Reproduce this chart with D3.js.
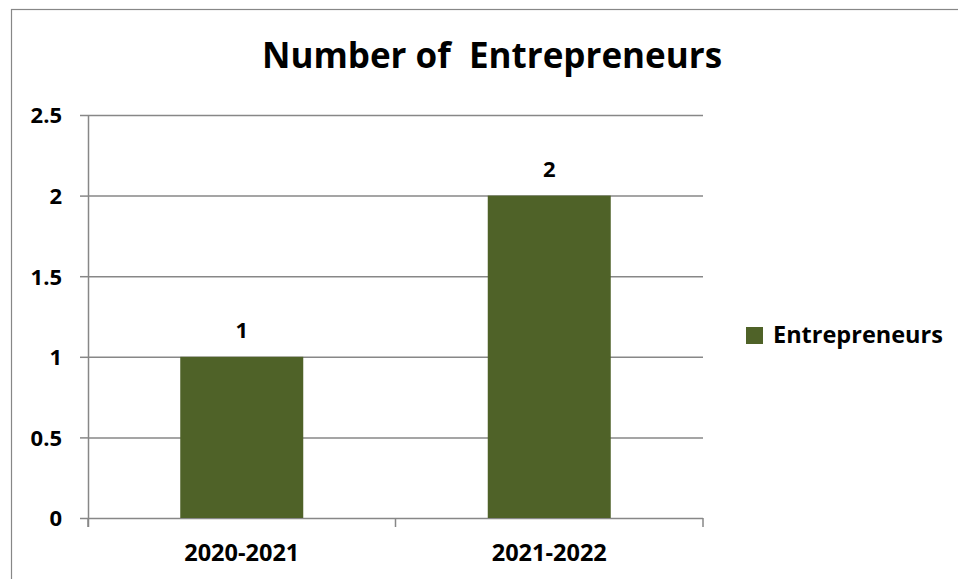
<!DOCTYPE html>
<html>
<head>
<meta charset="utf-8">
<script src="https://cdn.jsdelivr.net/npm/d3@7"></script>
<style>
  html, body { margin: 0; padding: 0; background: #fff; }
  svg { display: block; }
  text { font-family: "Open Sans", Lato, sans-serif; font-weight: bold; fill: #000; }
</style>
</head>
<body>
<script>
const categories = ["2020-2021", "2021-2022"];
const seriesName = "Entrepreneurs";
const values = [1, 2];
const yTicks = [0, 0.5, 1, 1.5, 2, 2.5];
const yTickLabels = ["0", "0.5", "1", "1.5", "2", "2.5"];
const title = "Number of\u00a0 Entrepreneurs";

const W = 958, H = 579;
const barColor = "#4f6228";
const gridColor = "#878787";
const plot = { left: 88, right: 703, top: 115, bottom: 518 };

const svg = d3.select("body").append("svg").attr("width", W).attr("height", H);

// outer chart border
svg.append("rect")
  .attr("x", 11.5).attr("y", 9.5)
  .attr("width", W + 10).attr("height", H + 10)
  .attr("fill", "none").attr("stroke", gridColor).attr("stroke-width", 1.2);

const x = d3.scaleBand().domain(categories).range([plot.left, plot.right])
  .paddingInner(0.6).paddingOuter(0.3);
const y = d3.scaleLinear().domain([0, 2.5]).range([plot.bottom, plot.top]);

// gridlines + y ticks
const yAxis = d3.axisLeft(y).tickValues(yTicks)
  .tickFormat((d, i) => yTickLabels[i])
  .tickSize(8).tickSizeOuter(0).tickPadding(18);
const gy = svg.append("g").attr("transform", `translate(${plot.left},0)`).call(yAxis);
gy.select(".domain").attr("stroke", gridColor).attr("stroke-width", 1.5)
  .attr("d", `M0.5,${plot.top}V${plot.bottom + 9}`);
gy.selectAll(".tick line").attr("stroke", gridColor).attr("stroke-width", 1.5)
  .attr("x2", -8);
gy.selectAll(".tick").append("line")
  .attr("x1", 0).attr("x2", plot.right - plot.left)
  .attr("stroke", gridColor).attr("stroke-width", 1.5);
gy.selectAll(".tick text").attr("font-size", 22).attr("dy", "0.36em")
  .style("font-family", "'Open Sans', sans-serif").style("font-weight", "bold").attr("fill", "#000");

// x axis boundary ticks
const bounds = [plot.left, (plot.left + plot.right) / 2, plot.right];
svg.append("g").selectAll("line").data(bounds).join("line")
  .attr("x1", d => d).attr("x2", d => d)
  .attr("y1", plot.bottom).attr("y2", plot.bottom + 9)
  .attr("stroke", gridColor).attr("stroke-width", 1.5);

// bars
svg.append("g").selectAll("rect").data(values).join("rect")
  .attr("x", (d, i) => x(categories[i]))
  .attr("y", d => y(d))
  .attr("width", x.bandwidth())
  .attr("height", d => y(0) - y(d))
  .attr("fill", barColor);

// data labels
svg.append("g").selectAll("text").data(values).join("text")
  .attr("x", (d, i) => x(categories[i]) + x.bandwidth() / 2)
  .attr("y", d => y(d) - 19)
  .attr("text-anchor", "middle").attr("font-size", 22)
  .text(d => d);

// category labels
svg.append("g").selectAll("text").data(categories).join("text")
  .attr("x", d => x(d) + x.bandwidth() / 2)
  .attr("y", plot.bottom + 43)
  .attr("text-anchor", "middle").attr("font-size", 23.5)
  .text(d => d);

// title
svg.append("text")
  .attr("x", 492).attr("y", 68)
  .attr("text-anchor", "middle").attr("font-size", 35)
  .text(title);

// legend
const lg = svg.append("g").attr("transform", "translate(746,327)");
lg.append("rect").attr("width", 17).attr("height", 17).attr("fill", barColor);
lg.append("text").attr("x", 27).attr("y", 16).attr("font-size", 23.5).text(seriesName);
</script>
</body>
</html>
